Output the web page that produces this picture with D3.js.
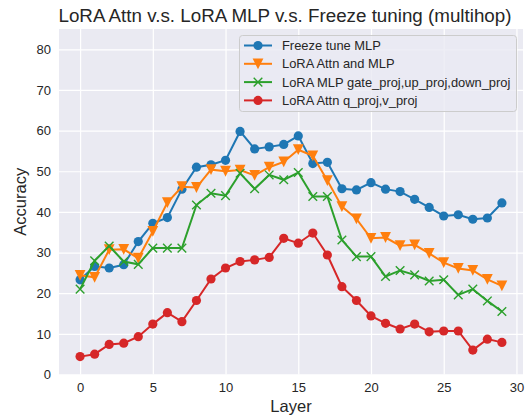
<!DOCTYPE html>
<html>
<head>
<meta charset="utf-8">
<script src="https://cdn.jsdelivr.net/npm/d3@7"></script>
<style>
  body { margin: 0; background: #fff; }
  text { font-family: "Liberation Sans", Arial, sans-serif; fill: #262626; }
</style>
</head>
<body>
<script>
// layers 0..29
var layers = d3.range(0, 30);

var freezeMlp = [23.3, 26.6, 26.2, 27.0, 32.7, 37.2, 38.6, 45.6, 51.0, 51.6,
                 52.7, 59.8, 55.5, 56.0, 56.6, 58.7, 51.9, 52.2, 45.7, 45.4,
                 47.2, 45.6, 45.0, 43.1, 41.1, 39.0, 39.3, 38.2, 38.5, 42.2];
var loraAttnMlp = [24.4, 23.9, 30.7, 30.8, 28.6, 35.2, 42.3, 46.2, 46.0, 50.4,
                   50.0, 50.3, 49.0, 51.0, 52.3, 55.3, 53.8, 47.7, 41.3, 38.3,
                   33.5, 33.7, 31.7, 31.9, 29.8, 27.5, 26.1, 25.6, 23.4, 21.8];
var loraMlp = [21.0, 28.0, 31.6, 27.8, 27.1, 31.1, 31.1, 31.1, 41.7, 44.6,
               44.0, 49.5, 45.7, 49.1, 47.9, 49.7, 43.8, 43.8, 33.1, 29.0,
               29.0, 24.1, 25.6, 24.5, 23.0, 23.3, 19.6, 21.0, 18.1, 15.5];
var loraAttnQv = [4.4, 5.0, 7.4, 7.7, 9.3, 12.4, 15.2, 13.0, 18.2, 23.5,
                  26.2, 27.8, 28.2, 28.8, 33.5, 32.3, 34.8, 29.4, 21.6, 18.2,
                  14.4, 12.6, 11.2, 12.4, 10.5, 10.7, 10.7, 6.0, 8.7, 7.9];

var seriesNames = ['Freeze tune MLP', 'LoRA Attn and MLP',
                   'LoRA MLP gate_proj,up_proj,down_proj', 'LoRA Attn q_proj,v_proj'];
var seriesColors = ['#1f77b4', '#ff7f0e', '#2ca02c', '#d62728'];
var seriesMarkers = ['circle', 'tri', 'x', 'circle'];
var seriesValues = [freezeMlp, loraAttnMlp, loraMlp, loraAttnQv];

var xTicks = [0, 5, 10, 15, 20, 25, 30];
var yTicks = [0, 10, 20, 30, 40, 50, 60, 70, 80];

var W = 532, H = 418;
var plot = {left: 59, right: 523, top: 29, bottom: 374.5};

var svg = d3.select('body').append('svg')
    .attr('width', W)
    .attr('height', H);

var x = d3.scaleLinear().domain([-1.45, 30.45]).range([plot.left, plot.right]);
var y = d3.scaleLinear().domain([0, 85]).range([plot.bottom, plot.top]);

// background
svg.append('rect')
    .attr('x', plot.left).attr('y', plot.top)
    .attr('width', plot.right - plot.left)
    .attr('height', plot.bottom - plot.top)
    .attr('fill', '#eaeaf2');

// grid
var xAxis = d3.axisBottom(x).tickValues(xTicks).tickSize(-(plot.bottom - plot.top)).tickPadding(8);
var yAxis = d3.axisLeft(y).tickValues(yTicks).tickSize(-(plot.right - plot.left)).tickPadding(8);

var gx = svg.append('g')
    .attr('transform', `translate(0, ${plot.bottom})`)
    .call(xAxis);
var gy = svg.append('g')
    .attr('transform', `translate(${plot.left}, 0)`)
    .call(yAxis);

[gx, gy].forEach(function(g) {
  g.select('.domain').remove();
  g.selectAll('line').attr('stroke', '#fff').attr('stroke-width', 1.2);
  g.selectAll('text').style('font-size', '13px').attr('fill', '#262626');
});

// lines and markers
var line = d3.line()
    .x(function(d, i) { return x(layers[i]); })
    .y(function(d) { return y(d); });

function drawMarker(g, type, color, cx, cy) {
  if (type === 'circle') {
    g.append('circle').attr('cx', cx).attr('cy', cy).attr('r', 4.6).attr('fill', color);
  } else if (type === 'tri') {
    var s = 5.4;
    g.append('path')
        .attr('d', `M${cx - s},${cy - s}L${cx + s},${cy - s}L${cx},${cy + s}Z`)
        .attr('fill', color);
  } else {
    var r = 4.3;
    g.append('path')
        .attr('d', `M${cx - r},${cy - r}L${cx + r},${cy + r}M${cx - r},${cy + r}L${cx + r},${cy - r}`)
        .attr('stroke', color).attr('stroke-width', 1.4).attr('fill', 'none');
  }
}

seriesValues.forEach(function(vals, k) {
  var g = svg.append('g');
  g.append('path')
      .datum(vals)
      .attr('d', line)
      .attr('fill', 'none')
      .attr('stroke', seriesColors[k])
      .attr('stroke-width', 2);
  vals.forEach(function(v, i) {
    drawMarker(g, seriesMarkers[k], seriesColors[k], x(layers[i]), y(v));
  });
});

// legend
var leg = svg.append('g');
leg.append('rect')
    .attr('x', 239.5).attr('y', 35.5)
    .attr('width', 277).attr('height', 76)
    .attr('rx', 3)
    .attr('fill', '#eaeaf2').attr('fill-opacity', 0.8)
    .attr('stroke', '#cccccc');
seriesNames.forEach(function(name, k) {
  var ly = 45.5 + k * 18.3;
  leg.append('line')
      .attr('x1', 244).attr('x2', 272)
      .attr('y1', ly).attr('y2', ly)
      .attr('stroke', seriesColors[k]).attr('stroke-width', 2);
  drawMarker(leg, seriesMarkers[k], seriesColors[k], 258, ly);
  leg.append('text')
      .attr('x', 282).attr('y', ly + 4.6)
      .style('font-size', '12.9px')
      .text(name);
});

// title and labels
svg.append('text')
    .attr('x', 285).attr('y', 22)
    .attr('text-anchor', 'middle')
    .style('font-size', '18.8px')
    .text('LoRA Attn v.s. LoRA MLP v.s. Freeze tuning (multihop)');

svg.append('text')
    .attr('x', (plot.left + plot.right) / 2).attr('y', 412)
    .attr('text-anchor', 'middle')
    .style('font-size', '16.5px')
    .text('Layer');

svg.append('text')
    .attr('transform', `translate(26, ${(plot.top + plot.bottom) / 2}) rotate(-90)`)
    .attr('text-anchor', 'middle')
    .style('font-size', '16.5px')
    .text('Accuracy');
</script>
</body>
</html>
